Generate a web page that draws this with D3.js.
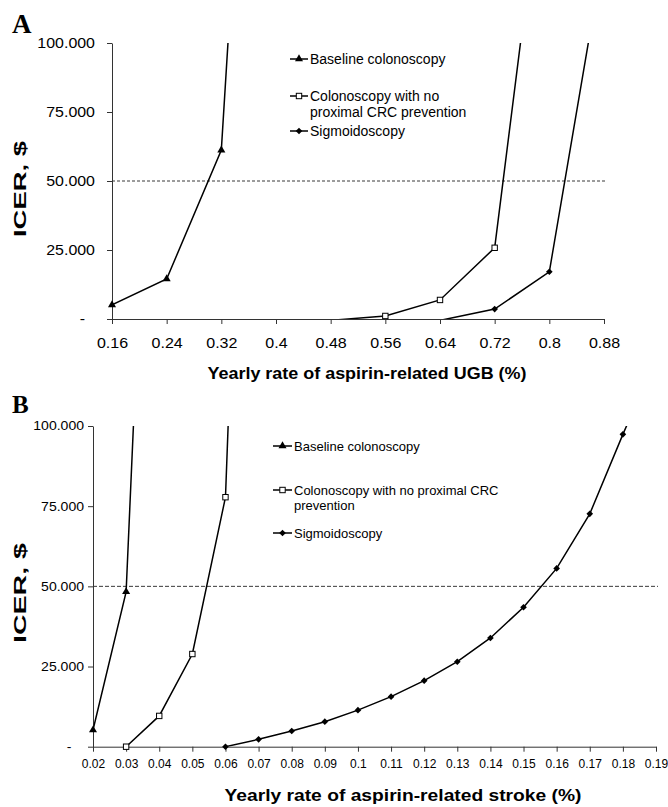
<!DOCTYPE html>
<html>
<head>
<meta charset="utf-8">
<script src="https://cdn.jsdelivr.net/npm/d3@7"></script>
<style>
  body { margin: 0; background: #fff; }
  svg { display: block; font-family: "Liberation Sans", Arial, sans-serif; }
</style>
</head>
<body>
<svg id="chart" width="668" height="807"></svg>
<script>
// ---- data ----
const ugbRates = [0.16, 0.24, 0.32, 0.40, 0.48, 0.56, 0.64, 0.72, 0.80, 0.88];
const ugbBaseline = [5100, 14500, 61200, 381000, null, null, null, null, null, null];
const ugbNoProximal = [null, null, null, null, -500, 1100, 6900, 25800, 183000, null];
const ugbSigmoid = [null, null, null, null, null, null, -500, 3600, 17100, 133400];

const strokeRates = [0.02, 0.03, 0.04, 0.05, 0.06, 0.07, 0.08, 0.09, 0.10, 0.11,
  0.12, 0.13, 0.14, 0.15, 0.16, 0.17, 0.18, 0.19];
const strokeBaseline = [5200, 48300, 283000, null, null, null, null, null, null,
  null, null, null, null, null, null, null, null, null];
const strokeNoProximal = [null, 0, 9600, 28900, 77800, 355000, null, null, null,
  null, null, null, null, null, null, null, null, null];
const strokeSigmoid = [null, null, null, null, 0, 2300, 4900, 7800, 11400, 15600,
  20600, 26500, 33900, 43500, 55600, 72600, 97400, 121000];

const yTicks = [0, 25000, 50000, 75000, 100000];
const threshold = 50000;
const markers = ["triangle", "square", "diamond"];
const legendA = [["Baseline colonoscopy"], ["Colonoscopy with no", "proximal CRC prevention"], ["Sigmoidoscopy"]];
const legendB = [["Baseline colonoscopy"], ["Colonoscopy with no proximal CRC", "prevention"], ["Sigmoidoscopy"]];

const svg = d3.select("#chart");
const fmt = d3.formatLocale({ decimal: ",", thousands: ".", grouping: [3], currency: ["$", ""] }).format(",");

function drawMarker(g, type, x, y) {
  if (type === "triangle") {
    g.append("path").attr("d", d3.symbol(d3.symbolTriangle, 28)())
      .attr("transform", `translate(${x},${y})`).attr("fill", "#000");
  } else if (type === "square") {
    g.append("rect").attr("x", x - 2.7).attr("y", y - 2.7).attr("width", 5.4).attr("height", 5.4)
      .attr("fill", "#fff").attr("stroke", "#000").attr("stroke-width", 1);
  } else {
    g.append("path").attr("d", d3.symbol(d3.symbolSquare, 22)())
      .attr("transform", `translate(${x},${y}) rotate(45)`).attr("fill", "#000");
  }
}

function panel(cfg) {
  const g = svg.append("g");
  const x = d3.scaleLinear().domain(cfg.xDomain).range(cfg.xRange);
  const y = d3.scaleLinear().domain([0, 100000]).range(cfg.yRange);

  const clipId = "clip" + cfg.id;
  svg.append("clipPath").attr("id", clipId).append("rect")
    .attr("x", cfg.xRange[0]).attr("y", cfg.yRange[1])
    .attr("width", cfg.xRange[1] - cfg.xRange[0] + 2)
    .attr("height", cfg.yRange[0] - cfg.yRange[1]);

  // threshold line
  g.append("line")
    .attr("x1", cfg.xRange[0]).attr("x2", cfg.dashEnd)
    .attr("y1", y(threshold)).attr("y2", y(threshold))
    .attr("stroke", "#222").attr("stroke-width", 0.9)
    .attr("stroke-dasharray", cfg.dash);

  // axes
  const yAxis = g.append("g").attr("transform", `translate(${cfg.xRange[0]},0)`)
    .call(d3.axisLeft(y).tickValues(yTicks).tickSize(5).tickSizeOuter(0)
      .tickFormat(d => d === 0 ? "-" : fmt(d)));
  yAxis.selectAll("text")
    .attr("font-size", cfg.yFont).attr("fill", "#000")
    .attr("x", d => (d === 0 ? cfg.zeroEdge : cfg.yEdge) / cfg.ySx)
    .attr("transform", `scale(${cfg.ySx},1)`);

  const xAxis = g.append("g").attr("transform", `translate(0,${cfg.yRange[0]})`)
    .call(d3.axisBottom(x).tickValues(cfg.xTicks).tickSize(5).tickSizeOuter(0)
      .tickPadding(cfg.xPad).tickFormat(d3.format("")));
  xAxis.selectAll("text")
    .attr("font-size", cfg.xFont).attr("fill", "#000")
    .attr("transform", `scale(${cfg.xSx},1)`);

  g.selectAll(".domain, .tick line").attr("stroke", "#333");

  // series
  const plot = g.append("g").attr("clip-path", `url(#${clipId})`);
  const mk = g.append("g");
  cfg.series.forEach((vals, si) => {
    const pts = cfg.xTicks.map((t, i) => [t, vals[i]]).filter(p => p[1] !== null);
    plot.append("path")
      .attr("d", d3.line().x(p => x(p[0])).y(p => y(p[1]))(pts))
      .attr("fill", "none").attr("stroke", "#000").attr("stroke-width", 1.5);
    pts.filter(p => p[1] >= 0 && p[1] <= 100000)
      .forEach(p => drawMarker(mk, markers[si], x(p[0]), y(p[1])));
  });

  // legend
  const lg = g.append("g");
  cfg.legend.forEach((lines, i) => {
    const cy = cfg.legendRows[i];
    lg.append("line").attr("x1", cfg.legendX[0]).attr("x2", cfg.legendX[1])
      .attr("y1", cy).attr("y2", cy).attr("stroke", "#000").attr("stroke-width", 1.5);
    drawMarker(lg, markers[i], (cfg.legendX[0] + cfg.legendX[1]) / 2, cy);
    lines.forEach((txt, j) => {
      lg.append("text").attr("x", cfg.legendX[1] + 2)
        .attr("y", cy + j * cfg.legendGap).attr("dy", "0.35em")
        .attr("font-size", cfg.legendFont).attr("fill", "#000").text(txt);
    });
  });

  // titles
  g.append("text")
    .attr("transform", `translate(${cfg.yTitle[0]},${cfg.yTitle[1]}) rotate(-90)`)
    .attr("text-anchor", "middle").attr("dy", "0.35em")
    .attr("font-size", 17).attr("font-weight", "bold")
    .attr("textLength", cfg.yTitle[2]).attr("lengthAdjust", "spacingAndGlyphs")
    .text("ICER, $");

  g.append("text")
    .attr("x", cfg.xTitle[0]).attr("y", cfg.xTitle[1])
    .attr("text-anchor", "middle")
    .attr("font-size", cfg.xTitle[3]).attr("font-weight", "bold")
    .attr("textLength", cfg.xTitle[2]).attr("lengthAdjust", "spacingAndGlyphs")
    .text(cfg.xLabel);

  g.append("text")
    .attr("x", cfg.letter[0]).attr("y", cfg.letter[1])
    .attr("font-family", "'Liberation Serif', 'Times New Roman', serif")
    .attr("font-weight", "bold").attr("font-size", cfg.letter[2])
    .text(cfg.id);
}

panel({
  id: "A",
  xDomain: [0.16, 0.88], xRange: [112, 604], yRange: [319, 43],
  xTicks: ugbRates,
  series: [ugbBaseline, ugbNoProximal, ugbSigmoid],
  dashEnd: 606, dash: "3,2",
  yFont: 14, ySx: 1.14, yEdge: -17, zeroEdge: -27,
  xFont: 15, xSx: 1.07, xPad: 13,
  legend: legendA, legendRows: [59, 96, 131], legendX: [290, 308], legendGap: 16, legendFont: 14,
  yTitle: [20, 189, 96],
  xTitle: [367, 379, 319, 16],
  xLabel: "Yearly rate of aspirin-related UGB (%)",
  letter: [12, 33, 27]
});

panel({
  id: "B",
  xDomain: [0.02, 0.19], xRange: [93, 656], yRange: [746.7, 426],
  xTicks: strokeRates,
  series: [strokeBaseline, strokeNoProximal, strokeSigmoid],
  dashEnd: 658, dash: "4,2",
  yFont: 12, ySx: 1.17, yEdge: -9, zeroEdge: -21.5,
  xFont: 12, xSx: 1.0, xPad: 8,
  legend: legendB, legendRows: [446, 490, 533], legendX: [273, 292], legendGap: 15, legendFont: 13,
  yTitle: [20, 593, 100],
  xTitle: [403, 801, 357, 17],
  xLabel: "Yearly rate of aspirin-related stroke (%)",
  letter: [12, 413, 25]
});
</script>
</body>
</html>
